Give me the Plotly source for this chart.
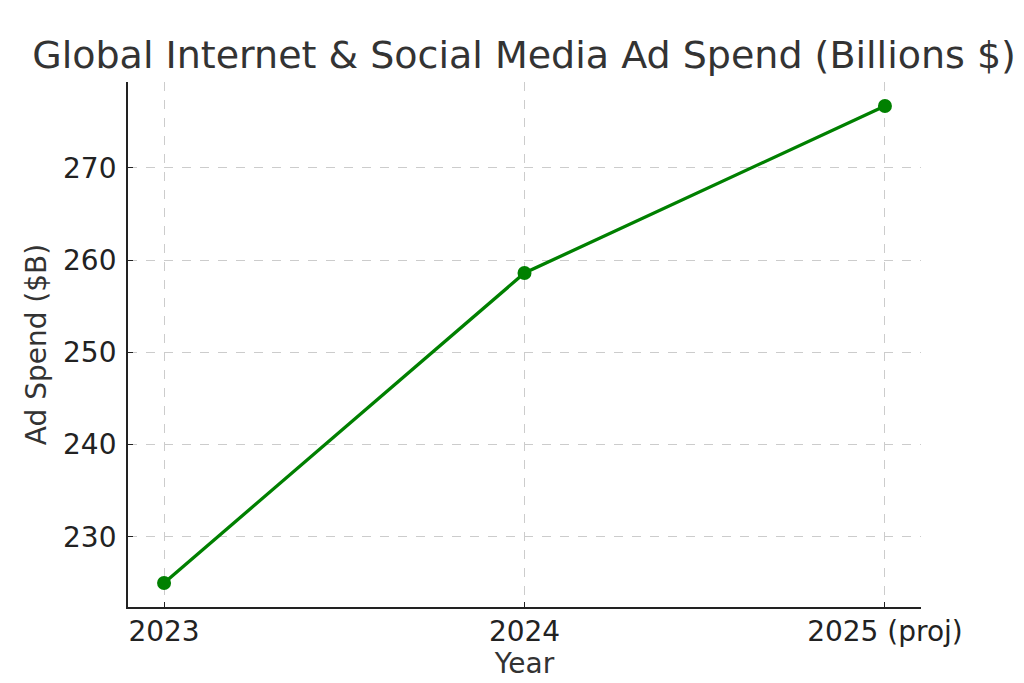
import plotly.graph_objects as go

years = ["2023", "2024", "2025 (proj)"]
ad_spend = [225.0, 258.6, 276.7]
y_ticks = [230, 240, 250, 260, 270]

fig = go.Figure()
fig.add_trace(go.Scatter(
    x=[0, 1, 2], y=ad_spend,
    mode="lines+markers",
    line=dict(color="green", width=3.3),
    marker=dict(color="green", size=14),
))

axis_font = dict(family="DejaVu Sans", size=28, color="#333333")
tick_font = dict(family="DejaVu Sans", size=28, color="#222222")

fig.update_xaxes(
    range=[-0.1, 2.1], tickvals=[0, 1, 2], ticktext=years,
    title=dict(text="Year", font=axis_font, standoff=3),
    tickfont=tick_font, ticklabelstandoff=-2,
    showgrid=True, gridcolor="#cccccc", griddash="dash", gridwidth=1,
    showline=True, linecolor="#222222", linewidth=1.8,
    ticks="inside", ticklen=5, tickcolor="#222222",
    zeroline=False,
)
fig.update_yaxes(
    range=[222.4, 279.3], tickvals=y_ticks,
    title=dict(text="Ad Spend ($B)", font=axis_font, standoff=8),
    tickfont=tick_font, ticklabelstandoff=4,
    showgrid=True, gridcolor="#cccccc", griddash="dash", gridwidth=1,
    showline=True, linecolor="#222222", linewidth=1.8,
    ticks="inside", ticklen=5, tickcolor="#222222",
    zeroline=False,
)

fig.update_layout(
    width=1024, height=683,
    title=dict(text="Global Internet & Social Media Ad Spend (Billions $)",
               font=dict(family="DejaVu Sans", size=38, color="#333333"),
               x=0.504, xanchor="center", y=0.931, yanchor="middle"),
    plot_bgcolor="white", paper_bgcolor="white",
    margin=dict(l=120, r=111, t=74, b=84),
    showlegend=False,
)

fig.write_html("out.html")
